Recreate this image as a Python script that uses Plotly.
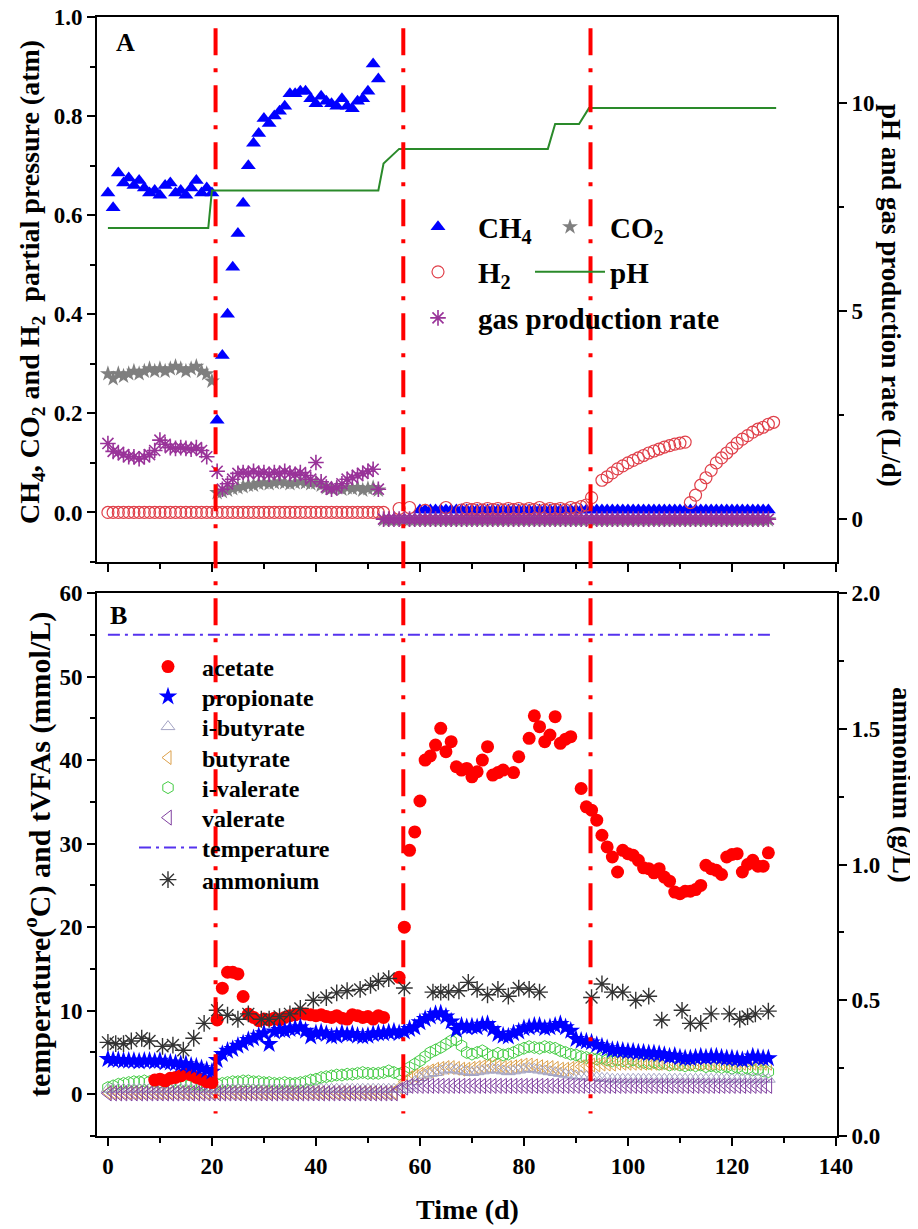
import plotly.graph_objects as go

FONT = "Liberation Serif"

# ---------------- Tick labels ----------------
x_ticks = [0, 20, 40, 60, 80, 100, 120, 140]
x_ticklabels = ["0", "20", "40", "60", "80", "100", "120", "140"]
a_left_ticks = [0.0, 0.2, 0.4, 0.6, 0.8, 1.0]
a_left_labels = ["0.0", "0.2", "0.4", "0.6", "0.8", "1.0"]
a_right_ticks = [0, 5, 10]
a_right_labels = ["0", "5", "10"]
b_left_ticks = [0, 10, 20, 30, 40, 50, 60]
b_left_labels = ["0", "10", "20", "30", "40", "50", "60"]
b_right_ticks = [0.0, 0.5, 1.0, 1.5, 2.0]
b_right_labels = ["0.0", "0.5", "1.0", "1.5", "2.0"]

# ---------------- Panel A data ----------------
ch4_days_a = list(range(0, 53))
ch4_vals_a = [0.645, 0.615, 0.685, 0.665, 0.675, 0.660, 0.670, 0.655, 0.645, 0.650, 0.640,
              0.660, 0.665, 0.645, 0.650, 0.640, 0.655, 0.670, 0.645, 0.655, 0.645,
              0.186, 0.317, 0.400, 0.495, 0.563, 0.624, 0.700, 0.745, 0.765, 0.795,
              0.785, 0.800, 0.810, 0.820, 0.845, 0.845, 0.850, 0.850, 0.835, 0.825,
              0.840, 0.830, 0.825, 0.820, 0.835, 0.820, 0.815, 0.830, 0.835, 0.850,
              0.905, 0.875]
ch4_days_b = list(range(60, 128))
ch4_vals_b = [0.005] * 68

co2_days = list(range(0, 128))
co2_vals = ([0.280, 0.270, 0.280, 0.275, 0.280, 0.285, 0.280, 0.285, 0.290, 0.285, 0.290,
             0.285, 0.290, 0.295, 0.290, 0.285, 0.290, 0.295, 0.285, 0.280, 0.265] +
            [0.040, 0.042, 0.045, 0.048, 0.050, 0.052, 0.055, 0.055, 0.058, 0.060,
             0.058, 0.060, 0.062, 0.060, 0.058, 0.060, 0.062, 0.060, 0.058, 0.060,
             0.055, 0.050, 0.048, 0.050, 0.047, 0.050, 0.048, 0.050, 0.045, 0.048,
             0.050, 0.045] +
            [-0.015] * 75)

h2_days = (list(range(0, 53)) + [53, 56, 58, 61, 65] + list(range(68, 94)) +
           list(range(95, 112)) + list(range(112, 129)))
h2_vals = ([0.0] * 53 + [0.0, 0.008, 0.010, 0.004, 0.010] +
           [0.005, 0.008, 0.006, 0.008, 0.005, 0.008, 0.006, 0.008, 0.005, 0.008,
            0.006, 0.008, 0.005, 0.008, 0.006, 0.010, 0.005, 0.008, 0.006, 0.008,
            0.005, 0.010, 0.008, 0.012, 0.015, 0.030] +
           [0.065, 0.072, 0.080, 0.088, 0.094, 0.100, 0.105, 0.110, 0.115, 0.120,
            0.124, 0.128, 0.132, 0.135, 0.138, 0.140, 0.142] +
           [0.020, 0.035, 0.055, 0.070, 0.085, 0.100, 0.110, 0.120, 0.130, 0.140,
            0.148, 0.155, 0.162, 0.168, 0.172, 0.178, 0.182])

ph_days = [0, 19.3, 20.0, 52.0, 53.0, 56.0, 84.6, 86.0, 90.6, 92.5, 128.5]
ph_vals = [7.0, 7.0, 7.9, 7.9, 8.55, 8.9, 8.9, 9.5, 9.5, 9.88, 9.88]

gas_days = list(range(0, 20)) + list(range(21, 128))
gas_vals = ([1.82, 1.63, 1.60, 1.55, 1.50, 1.50, 1.45, 1.50, 1.55, 1.65,
             1.90, 1.80, 1.72, 1.70, 1.72, 1.70, 1.68, 1.72, 1.65, 1.50] +
            [1.15, 0.72, 0.85, 0.96, 1.10, 1.12, 1.10, 1.15, 1.10, 1.12,
             1.08, 1.12, 1.10, 1.15, 1.10, 1.08, 1.12, 1.05, 0.96, 1.36,
             0.90, 0.77, 0.72, 0.75, 0.85, 0.96, 1.00, 1.05, 1.10, 1.15,
             1.20, 0.72] +
            [0.0] * 75)

# ---------------- Panel B data ----------------
ac_days = (list(range(9, 21)) + list(range(21, 54)) +
           [56, 57, 58, 59, 60, 61, 62, 63, 64, 65, 66, 67, 68, 69, 70, 71, 72, 73, 74, 75,
            76, 78, 79, 81, 82, 83, 84, 85, 86, 87, 88, 89] + list(range(91, 128)))
ac_vals = ([1.7, 1.8, 1.6, 1.9, 2.0, 2.2, 2.5, 2.3, 2.0, 1.8, 1.5, 1.4] +
           [8.9, 12.7, 14.6, 14.6, 14.4, 11.7, 9.6, 9.2, 8.8, 9.0,
            8.9, 9.1, 8.9, 9.2, 9.4, 9.5, 9.7, 9.6, 9.5, 9.4,
            9.5, 9.3, 9.2, 9.4, 9.1, 9.0, 9.5, 9.4, 9.2, 9.3,
            9.0, 9.4, 9.2] +
           [14.0, 20.0, 29.2, 31.4, 35.1, 40.0, 40.5, 41.8, 43.8, 41.0,
            42.2, 39.2, 38.8, 39.0, 38.0, 38.6, 40.0, 41.6, 38.2, 38.5,
            38.8, 38.5, 40.4, 42.6, 45.3, 44.0, 42.2, 43.0, 45.2, 42.0,
            42.5, 42.8] +
           [36.6, 34.4, 34.0, 32.8, 31.0, 29.6, 28.4, 26.6, 29.2, 28.8,
            28.6, 28.0, 27.1, 27.0, 26.5, 27.0, 26.0, 25.5, 24.2, 24.0,
            24.3, 24.3, 24.5, 25.0, 27.4, 27.0, 26.8, 26.3, 28.4, 28.7,
            28.8, 26.6, 27.5, 28.0, 27.3, 27.3, 28.9])

pr_days = list(range(0, 128))
pr_vals = ([4.2, 4.1, 4.1, 4.0, 4.0, 4.0, 3.9, 4.0, 4.0, 3.9, 4.0, 3.8, 3.8, 3.7, 3.6, 3.6,
            3.4, 3.3, 3.1, 2.9, 2.7] +
           [4.1, 4.8, 5.2, 5.4, 5.8, 6.1, 6.5, 6.7, 7.0, 7.3,
            6.0, 7.5, 7.7, 7.6, 7.8, 7.9, 8.0, 7.6, 6.9, 7.3,
            7.4, 7.2, 6.9, 7.0, 7.3, 7.1, 7.2, 7.0, 6.9, 7.0,
            7.2, 7.3, 7.3, 7.4, 7.5, 7.3, 7.5] +
           [7.8, 8.0, 8.6, 9.0, 9.3, 9.6, 9.7, 9.3, 8.7, 7.7,
            8.2, 8.0, 8.1, 8.0, 8.3, 8.4, 7.8, 7.2, 7.0, 6.9,
            7.3, 7.5, 7.9, 8.0, 8.2, 8.2, 7.9, 8.0, 8.2, 8.4,
            8.0, 7.6, 6.6, 6.4, 6.3, 6.2, 5.9, 5.7, 5.5, 5.3,
            5.3, 5.2, 5.1, 5.1, 5.0, 5.0, 4.9, 4.9, 4.8, 4.7,
            4.5, 4.6, 4.4, 4.3, 4.3, 4.4, 4.5, 4.4, 4.5, 4.5,
            4.4, 4.3, 4.3, 4.2, 4.1, 4.2, 4.5, 4.4, 4.3, 4.3])

ib_days = list(range(0, 128))
ib_vals = ([0.6] * 58 +
           [1.0, 1.5, 2.0, 2.3, 2.5, 2.6, 2.8, 3.0, 3.0, 2.9,
            2.8, 2.7, 2.6, 2.7, 2.8, 2.9, 3.0, 2.9, 2.8, 2.7,
            2.8, 2.9, 3.0, 3.1, 3.0, 2.9, 2.8, 2.7, 2.6, 2.5,
            2.4, 2.3, 2.2, 2.2, 2.1, 2.0, 2.0, 1.9, 1.9, 1.8] +
           [1.8] * 30)

bu_days = list(range(0, 128))
bu_vals = ([0.2] * 56 + [0.8, 1.5] +
           [2.0, 2.2, 2.4, 2.6, 2.8, 3.0, 3.1, 3.2, 3.2, 3.1,
            3.0, 3.0, 3.1, 3.2, 3.3, 3.4, 3.4, 3.3, 3.2, 3.2,
            3.3, 3.4, 3.5, 3.5, 3.4, 3.3, 3.2, 3.2, 3.1, 3.0,
            3.0, 3.1, 3.2, 3.3, 3.4, 3.5, 3.5, 3.6, 3.6, 3.6] +
           [3.7] * 30)

iv_days = list(range(0, 128))
iv_vals = ([0.8, 1.0, 1.2, 1.3, 1.4, 1.5, 1.5, 1.6, 1.5, 1.6, 1.5, 1.5, 1.4, 1.5, 1.4, 1.3,
            1.2, 1.2, 1.1, 1.0, 0.9] +
           [1.2, 1.3, 1.4, 1.5, 1.5, 1.6, 1.6, 1.5, 1.5, 1.4,
            1.4, 1.3, 1.3, 1.4, 1.3, 1.3, 1.4, 1.5, 1.7, 1.8,
            2.0, 2.1, 2.2, 2.3, 2.3, 2.4, 2.4, 2.5, 2.6, 2.5,
            2.5, 2.5, 2.6, 2.8, 2.6, 2.4, 2.7] +
           [3.2, 3.6, 4.0, 4.5, 5.0, 5.3, 5.6, 6.0, 6.4, 6.5,
            5.8, 5.0, 4.8, 5.0, 5.2, 4.8, 4.6, 4.9, 4.7, 4.8,
            5.0, 5.3, 5.5, 5.7, 5.6, 5.5, 5.7, 5.6, 5.5, 5.2,
            5.0, 4.8, 4.7, 4.5, 4.4, 4.3, 4.2, 4.3, 4.1, 4.0,
            4.1, 4.0, 3.9, 4.1, 3.9, 3.8, 3.7, 3.8, 3.6, 3.7,
            3.5, 3.6, 3.5, 3.4, 3.5, 3.4, 3.5, 3.3, 3.4, 3.3,
            3.2, 3.3, 3.1, 3.2, 3.0, 3.1, 2.9, 3.0, 2.8, 2.7])

va_days = list(range(0, 128))
va_vals = [0.1] * 56 + [0.5, 0.8] + [1.0] * 70

am_days = [0, 1.5, 3, 4.5, 6.5, 8, 10.5, 12.5, 14.5, 16.5,
           18.5, 21, 23, 25, 27, 29.5, 31, 33, 35, 37,
           39.5, 42, 44, 46, 48.5, 50.5, 52, 54, 57, 62.5,
           64, 65.5, 67.5, 69.3, 71, 73, 75, 77, 79, 81,
           83, 93, 95, 97, 99, 101.5, 104, 106.5, 110.4, 112,
           114, 116, 119.5, 121.5, 123, 124.5, 127]
am_vals = [0.345, 0.34, 0.34, 0.35, 0.36, 0.35, 0.33, 0.335, 0.316, 0.36,
           0.415, 0.463, 0.445, 0.43, 0.45, 0.43, 0.43, 0.44, 0.45, 0.47,
           0.50, 0.51, 0.527, 0.535, 0.54, 0.555, 0.57, 0.58, 0.545, 0.53,
           0.53, 0.53, 0.535, 0.566, 0.54, 0.52, 0.54, 0.515, 0.545, 0.54,
           0.53, 0.51, 0.56, 0.53, 0.53, 0.50, 0.515, 0.427, 0.463, 0.415,
           0.415, 0.45, 0.45, 0.43, 0.44, 0.45, 0.46]

temp_days = [0, 128]
temp_vals = [55, 55]

stage_days = [20.7, 56.8, 92.8]

# ---------------- Figure ----------------
fig = go.Figure()

# Panel A traces
fig.add_trace(go.Scatter(x=co2_days, y=co2_vals, mode="markers", name="CO<sub>2</sub>",
                         xaxis="x", yaxis="y", legend="legend2",
                         marker=dict(symbol="star", size=12, color="#7f7f7f")))
fig.add_trace(go.Scatter(x=gas_days, y=gas_vals, mode="markers", name="gas production rate",
                         xaxis="x", yaxis="y2", legend="legend5",
                         marker=dict(symbol="asterisk-open", size=13, color="#993399",
                                     line=dict(color="#993399", width=1.6))))
fig.add_trace(go.Scatter(x=ch4_days_a + ch4_days_b, y=ch4_vals_a + ch4_vals_b, mode="markers",
                         name="CH<sub>4</sub>", xaxis="x", yaxis="y", legend="legend",
                         marker=dict(symbol="triangle-up", size=13, color="#0000ff")))
fig.add_trace(go.Scatter(x=h2_days, y=h2_vals, mode="markers", name="H<sub>2</sub>",
                         xaxis="x", yaxis="y", legend="legend3",
                         marker=dict(symbol="circle-open", size=12, color="#e0404a",
                                     line=dict(color="#e0404a", width=1.2))))
fig.add_trace(go.Scatter(x=ph_days, y=ph_vals, mode="lines", name="pH",
                         xaxis="x", yaxis="y2", legend="legend4",
                         line=dict(color="#2a8a2a", width=2)))

# Panel B traces (draw order); each legend entry placed individually
fig.add_trace(go.Scatter(x=iv_days, y=iv_vals, mode="markers", name="i-valerate",
                         xaxis="x2", yaxis="y3", legend="legend10",
                         marker=dict(symbol="hexagon-open", size=12, color="#44cc44",
                                     line=dict(color="#44cc44", width=1))))
fig.add_trace(go.Scatter(x=bu_days, y=bu_vals, mode="markers", name="butyrate",
                         xaxis="x2", yaxis="y3", legend="legend9",
                         marker=dict(symbol="triangle-left-open", size=12, color="#dca04a",
                                     line=dict(color="#dca04a", width=1))))
fig.add_trace(go.Scatter(x=ib_days, y=ib_vals, mode="markers", name="i-butyrate",
                         xaxis="x2", yaxis="y3", legend="legend8",
                         marker=dict(symbol="triangle-up-open", size=12, color="#a4a4c4",
                                     line=dict(color="#a4a4c4", width=1))))
fig.add_trace(go.Scatter(x=va_days, y=va_vals, mode="markers", name="valerate",
                         xaxis="x2", yaxis="y3", legend="legend11",
                         marker=dict(symbol="triangle-left-open", size=13, color="#8040a0",
                                     line=dict(color="#8040a0", width=1))))
fig.add_trace(go.Scatter(x=ac_days, y=ac_vals, mode="markers", name="acetate",
                         xaxis="x2", yaxis="y3", legend="legend6",
                         marker=dict(symbol="circle", size=13, color="#ff0000")))
fig.add_trace(go.Scatter(x=pr_days, y=pr_vals, mode="markers", name="propionate",
                         xaxis="x2", yaxis="y3", legend="legend7",
                         marker=dict(symbol="star", size=14, color="#0000ff")))
fig.add_trace(go.Scatter(x=am_days, y=am_vals, mode="markers", name="ammonium",
                         xaxis="x2", yaxis="y4", legend="legend13",
                         marker=dict(symbol="asterisk-open", size=14, color="#333333",
                                     line=dict(color="#333333", width=1.4))))
fig.add_trace(go.Scatter(x=temp_days, y=temp_vals, mode="lines", name="temperature",
                         xaxis="x2", yaxis="y3", legend="legend12",
                         line=dict(color="#5533ee", width=2, dash="12px,5px,3px,5px")))

# Stage separation lines spanning both panels
for d in stage_days:
    fig.add_shape(type="line", xref="x2", yref="paper", x0=d, x1=d, y0=0.99, y1=0.02,
                  line=dict(color="#ff0000", width=4, dash="27px,13px,4px,13px"), layer="above")

tickfont = dict(family=FONT, size=23, color="black", weight="bold")
axis_common = dict(showline=True, linewidth=2, linecolor="black", showgrid=False, zeroline=False,
                   ticks="outside", ticklen=8, tickwidth=2, tickcolor="black", tickfont=tickfont,
                   automargin=False, ticklabeloverflow="allow", tickmode="array")


def bold(labels):
    return ["<b>%s</b>" % t for t in labels]


def minor(dt):
    return dict(ticks="outside", tickmode="linear", tick0=0, dtick=dt, ticklen=5,
                tickwidth=2, tickcolor="black")


XR = [-2.1, 140.2]
top_bottom = (1136 - 562) / 1119
b_top = (1136 - 593) / 1119

# The page body adds an 8 px margin, so the figure is 8 px smaller and margins shifted.
fig.update_layout(
    width=910, height=1221,
    margin=dict(l=89, r=81, t=9, b=93),
    paper_bgcolor="white", plot_bgcolor="white",
    font=dict(family=FONT, color="black"),
    showlegend=True,
    xaxis=dict(domain=[0, 1], anchor="y", range=XR, tickvals=x_ticks, ticktext=bold(x_ticklabels),
               showticklabels=False, mirror=True, minor=minor(10), **axis_common),
    yaxis=dict(domain=[top_bottom, 1], anchor="x", range=[-0.1, 1.0], tickvals=a_left_ticks,
               ticktext=bold(a_left_labels), mirror=True, minor=minor(0.1), **axis_common),
    yaxis2=dict(overlaying="y", anchor="x", side="right", range=[-1.03, 12.07],
                tickvals=a_right_ticks, ticktext=bold(a_right_labels), minor=minor(2.5),
                **axis_common),
    xaxis2=dict(domain=[0, 1], anchor="y3", range=XR, tickvals=x_ticks, ticktext=bold(x_ticklabels),
                mirror=True, minor=minor(10), **axis_common),
    yaxis3=dict(domain=[0, b_top], anchor="x2", range=[-5, 60], tickvals=b_left_ticks,
                ticktext=bold(b_left_labels), mirror=True, minor=minor(5), **axis_common),
    yaxis4=dict(overlaying="y3", anchor="x2", side="right", range=[0, 2], tickvals=b_right_ticks,
                ticktext=bold(b_right_labels), minor=minor(0.25), **axis_common),
)


def px_x(px):
    return (px - 97) / 740.0


def px_y(py):
    return (1136 - py) / 1119.0


leg_font_a = dict(family=FONT, size=29, color="black", weight="bold")
leg_common_a = dict(xanchor="left", yanchor="middle", bgcolor="rgba(0,0,0,0)", borderwidth=0,
                    font=leg_font_a, itemwidth=70, orientation="v")
leg_font_b = dict(family=FONT, size=24, color="black", weight="bold")
leg_common_b = dict(xanchor="left", yanchor="middle", bgcolor="rgba(0,0,0,0)", borderwidth=0,
                    font=leg_font_b, itemwidth=58, orientation="v")
b_rows = [667, 697, 727, 758, 788, 818, 848, 880]
fig.update_layout(
    legend=dict(x=px_x(398), y=px_y(227), **leg_common_a),
    legend2=dict(x=px_x(530), y=px_y(227), **leg_common_a),
    legend3=dict(x=px_x(398), y=px_y(272), **leg_common_a),
    legend4=dict(x=px_x(530), y=px_y(272), **leg_common_a),
    legend5=dict(x=px_x(398), y=px_y(318), **leg_common_a),
    legend6=dict(x=px_x(134), y=px_y(b_rows[0]), **leg_common_b),
    legend7=dict(x=px_x(134), y=px_y(b_rows[1]), **leg_common_b),
    legend8=dict(x=px_x(134), y=px_y(b_rows[2]), **leg_common_b),
    legend9=dict(x=px_x(134), y=px_y(b_rows[3]), **leg_common_b),
    legend10=dict(x=px_x(134), y=px_y(b_rows[4]), **leg_common_b),
    legend11=dict(x=px_x(134), y=px_y(b_rows[5]), **leg_common_b),
    legend12=dict(x=px_x(134), y=px_y(b_rows[6]), **leg_common_b),
    legend13=dict(x=px_x(134), y=px_y(b_rows[7]), **leg_common_b),
)


def ann(text, px, py, size, angle=0, xa="center", ya="middle"):
    fig.add_annotation(text=text, xref="paper", yref="paper", x=px_x(px), y=px_y(py),
                       showarrow=False, textangle=angle, xanchor=xa, yanchor=ya,
                       font=dict(family=FONT, size=size, color="black", weight="bold"))


ann("A", 125, 42, 26)
ann("B", 118, 615, 26)
ann("CH<sub>4</sub>, CO<sub>2</sub> and H<sub>2</sub>  partial pressure (atm)", 32, 282, 28, -90)
ann("pH and gas production rate (L/d)", 891, 296, 27, 90)
ann("temperature(<sup>o</sup>C) and tVFAs (mmol/L)", 37, 855, 30, -90)
ann("ammonium (g/L)", 902, 785, 27, 90)
ann("Time (d)", 467, 1210, 28)

fig.write_html("out.html")
